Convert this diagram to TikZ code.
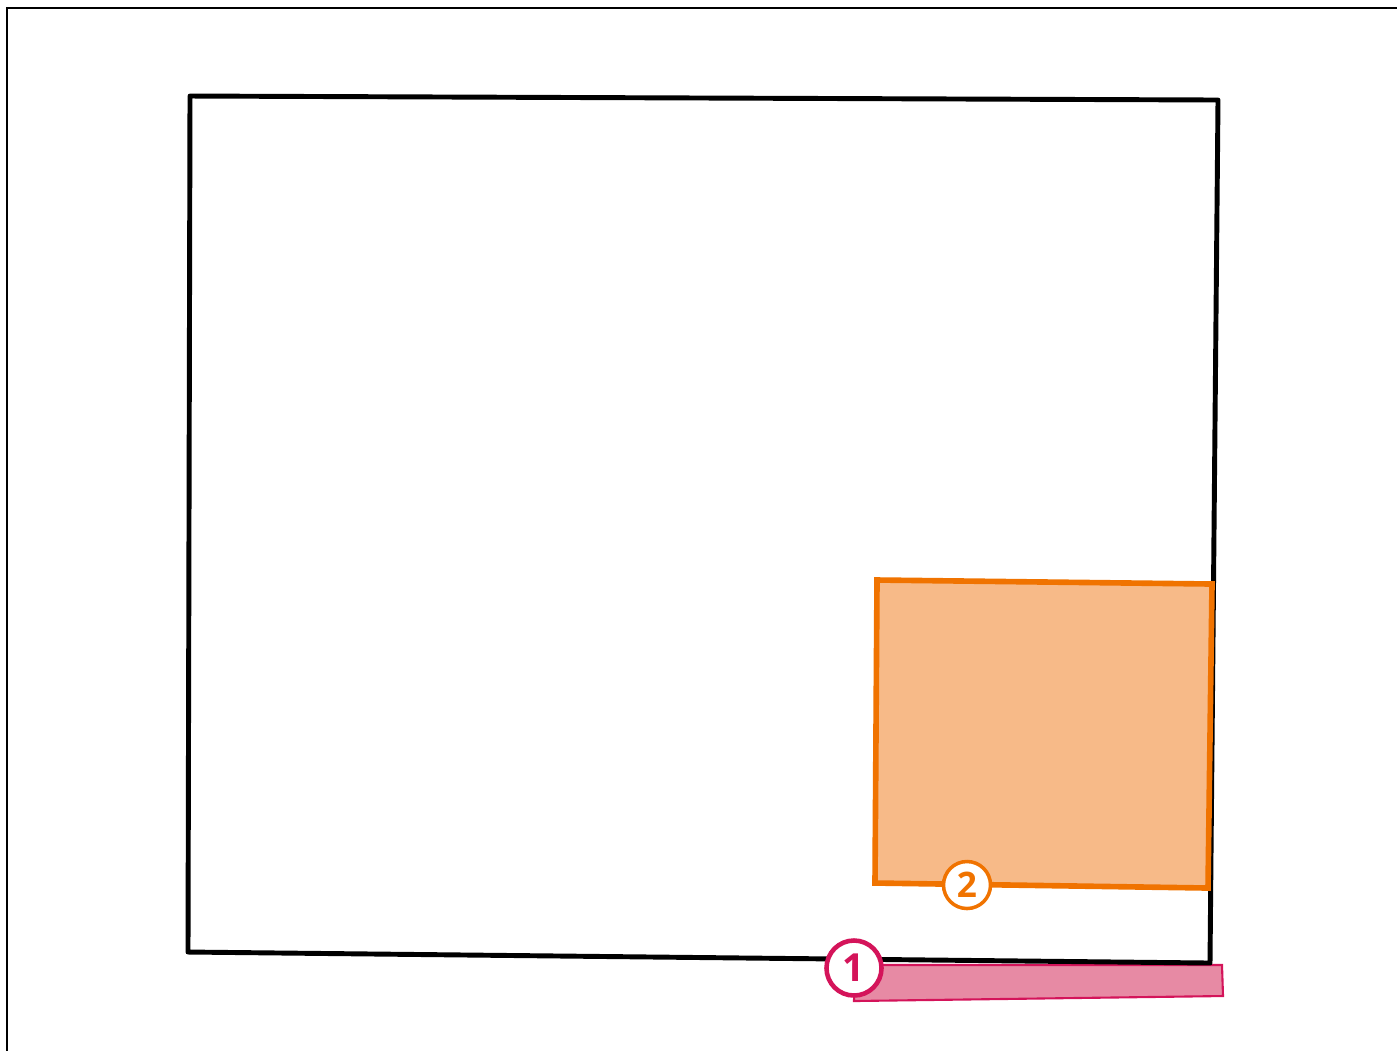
\documentclass[tikz,border=0pt]{standalone}
\usepackage{fontspec}
\setsansfont{Open Sans}
\usetikzlibrary{positioning}
\definecolor{Oc}{HTML}{F07300}
\definecolor{Of}{HTML}{F7BA88}
\definecolor{Pc}{HTML}{D4145A}
\definecolor{Pf}{HTML}{E78AA4}
\tikzset{
  frame/.style={draw=black, line width=0.6pt},
  room/.style={draw=black, line width=1.4pt, line join=round},
  zoneA/.style={draw=Pc, fill=Pf, line width=0.6pt},
  zoneB/.style={draw=Oc, fill=Of, line width=1.6pt},
  badge/.style={circle, fill=white, inner sep=0pt, font=\sffamily\bfseries},
}
\begin{document}
\begin{tikzpicture}[x=0.01cm, y=-0.01cm]
  \useasboundingbox (0,0) rectangle (1397,1050);
  \draw[frame] (7,1052) -- (7,8) -- (1399,8);
  \draw[zoneA] (855,965) -- (1222,965) -- (1223,996) -- (854,1001) -- cycle;
  \draw[room] (190,96) -- (1218,100) -- (1210,963) -- (188,952) -- cycle;
  \draw[zoneB] (877,580) -- (1212,584) -- (1208,888) -- (875,883) -- cycle;
  \node[badge, draw=Pc, line width=1.3pt, minimum size=0.55cm, text=Pc, font=\sffamily\bfseries\fontsize{11}{11}\selectfont] (n1) at (854,968) {1};
  \node[badge, draw=Oc, line width=1.0pt, minimum size=0.47cm, text=Oc, font=\sffamily\bfseries\fontsize{10}{10}\selectfont] (n2) at (967,885) {2};
\end{tikzpicture}
\end{document}
